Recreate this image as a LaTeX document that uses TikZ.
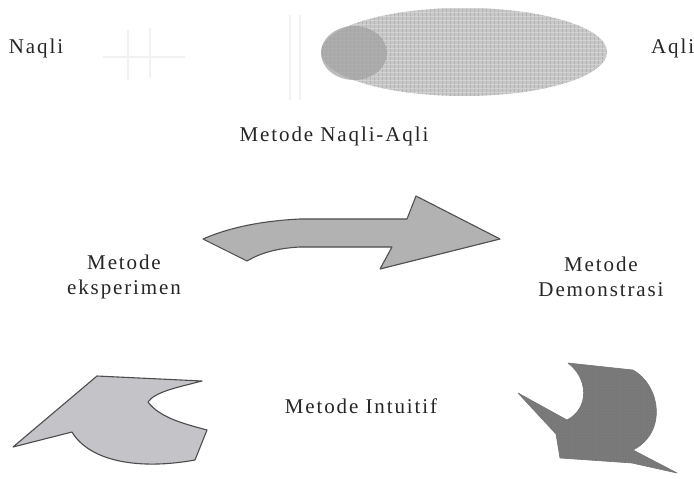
\documentclass[tikz,border=0pt]{standalone}
\usepackage{fontspec}
\setmainfont{Liberation Serif}
\newfontfamily\lsf[LetterSpace=9]{Liberation Serif}
\usetikzlibrary{patterns,shapes.geometric}
\definecolor{ellfill}{RGB}{200,200,200}
\definecolor{ellin}{RGB}{160,160,160}
\definecolor{arrfill}{RGB}{178,178,178}
\definecolor{blfill}{RGB}{196,196,200}
\definecolor{brfill}{RGB}{120,120,120}
\tikzset{
  lbl/.style={font=\lsf\fontsize{21}{25}\selectfont, text=black!85, inner sep=0pt, align=center},
  shapeline/.style={draw=black!70, line width=1.1pt, line join=round},
  faint/.style={draw=black!5, line width=2pt}
}
\begin{document}
\begin{tikzpicture}[x=1pt,y=-1pt]
\useasboundingbox (0,0) rectangle (694,479);
\fill[white] (0,0) rectangle (694,479);

% faint scan artefacts
\draw[faint] (103,57) -- (185,57);
\draw[faint] (128,30) -- (128,80);
\draw[faint] (150,28) -- (150,78);
\draw[faint] (290,15) -- (290,100);
\draw[faint] (300,15) -- (300,100);

% ellipse
\node[ellipse, minimum width=286pt, minimum height=88pt, inner sep=0pt, fill=ellfill] (ell) at (464,52) {};
\begin{scope}
  \clip (464,52) ellipse [x radius=143, y radius=44];
  \foreach \i in {0,...,72} {\draw[black!30, line width=0.8pt] (322+4*\i,0) -- (322+4*\i,110);}
  \foreach \j in {0,...,24} {\draw[black!18, line width=0.6pt] (300,8+4*\j) -- (620,8+4*\j);}
\end{scope}
\fill[ellin, opacity=0.7] (354,53) ellipse [x radius=33, y radius=27];
\coordinate (inner) at (354,53);

% texts
\node[lbl] (naqli) at (36,48) {Naqli};
\node[lbl, anchor=west] (aqli) at (651,48) {Aqli};
\node[lbl] (mna) at (334,136) {Metode Naqli-Aqli};
\node[lbl] (mexp) at (124,277) {Metode\\eksperimen};
\node[lbl] (mdem) at (601,277) {Metode\\Demonstrasi};
\node[lbl] (mint) at (361,406) {Metode Intuitif};

% big arrow
\path[shapeline, fill=arrfill]
  (203,239) -- (247,261) .. controls (262,252) and (280,248) .. (300,247)
  -- (392,247) -- (380,269) -- (500,239) -- (416,196) -- (407,219)
  -- (300,219) .. controls (260,221) and (228,228) .. cycle;
\path[pattern=dots, pattern color=black!30]
  (203,239) -- (247,261) .. controls (262,252) and (280,248) .. (300,247)
  -- (392,247) -- (380,269) -- (500,239) -- (416,196) -- (407,219)
  -- (300,219) .. controls (260,221) and (228,228) .. cycle;

% bottom-left shape
\path[shapeline, fill=blfill]
  (13,447) -- (97,376) -- (202,381) .. controls (175,388) and (155,392) .. (148,402)
  .. controls (160,418) and (185,424) .. (207,430) -- (195,460)
  .. controls (140,470) and (90,462) .. (72,432) -- cycle;

% bottom-right shape
\path[fill=brfill, draw=black!55, line width=0.6pt, line join=round]
  (518,393) -- (567,420) .. controls (590,408) and (588,378) .. (568,363)
  -- (633,370) .. controls (660,385) and (668,432) .. (633,450)
  -- (677,473) -- (632,463) -- (560,458) -- (556,434) -- cycle;
\path[pattern=dots, pattern color=black!45]
  (518,393) -- (567,420) .. controls (590,408) and (588,378) .. (568,363)
  -- (633,370) .. controls (660,385) and (668,432) .. (633,450)
  -- (677,473) -- (632,463) -- (560,458) -- (556,434) -- cycle;
\end{tikzpicture}
\end{document}
